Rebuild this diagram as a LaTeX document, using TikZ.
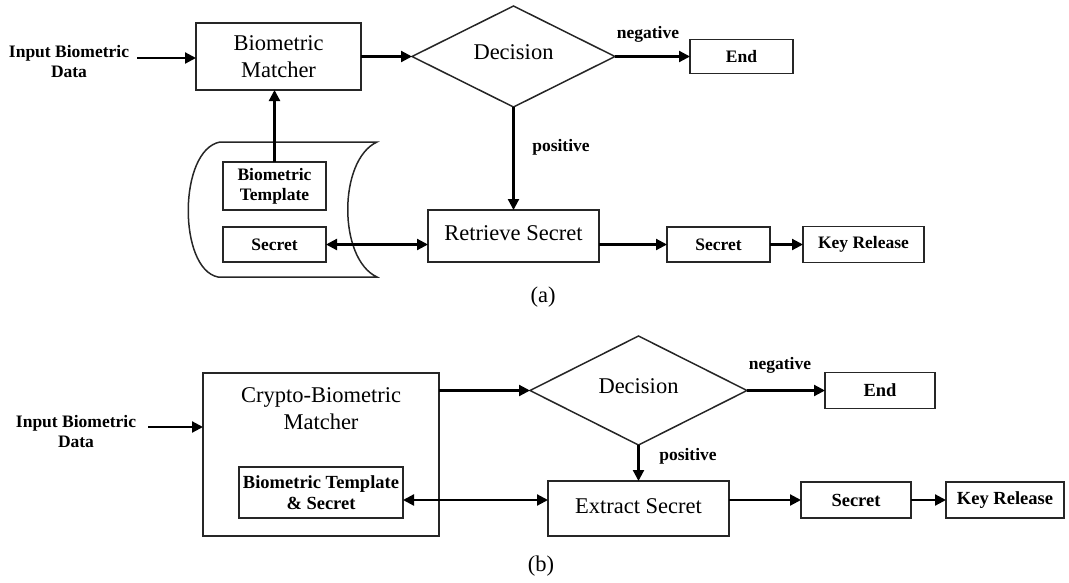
\documentclass[tikz,border=0pt]{standalone}
\usepackage{fontspec}
\setmainfont{Liberation Serif}
\usetikzlibrary{shapes.geometric,arrows.meta}
\tikzset{
  box/.style={draw=black!85, line width=1.5pt, inner sep=0pt, outer sep=0pt, align=center},
  dia/.style={draw=black!85, line width=1.5pt, shape=diamond, shape aspect=2, inner sep=0pt, outer sep=0pt, font=\fontsize{22.5}{27}\selectfont},
  big/.style={font=\fontsize{22.5}{27}\selectfont, align=center},
  small/.style={font=\fontsize{17.5}{20}\selectfont\bfseries, align=center},
  mid/.style={font=\fontsize{18.5}{21}\selectfont\bfseries, align=center},
  lbl/.style={font=\fontsize{17.5}{20}\selectfont\bfseries, align=center, inner sep=0pt},
  arr/.style={line width=2.2pt, -{Triangle[length=11pt,width=11pt]}},
  darr/.style={line width=2.2pt, {Triangle[length=11pt,width=11pt]}-{Triangle[length=11pt,width=11pt]}},
}
\begin{document}
\begin{tikzpicture}[x=1pt,y=-1pt]
\useasboundingbox (0,0) rectangle (1069,582);
% ---------------- (a) ----------------
\node[lbl] (in1) at (69,62) {Input Biometric\\Data};
\coordinate (in1s) at (137,58);
\node[box,big,minimum width=165pt,minimum height=67pt] (m1) at (278.5,56.5) {Biometric\\Matcher};
\node[dia,minimum width=203pt,minimum height=101pt] (d1) at (513.5,56.5) {\raisebox{8.5pt}{Decision}};
\node[lbl] (neg1) at (648,34) {negative};
\node[box,small,minimum width=103pt,minimum height=34pt] (e1) at (741.5,56.5) {End};
\node[lbl] (pos1) at (561,147) {positive};
\node[box,big,minimum width=171pt,minimum height=52pt] (r1) at (513.5,236) {\raisebox{6pt}{Retrieve Secret}};
\node[box,small,minimum width=103pt,minimum height=35pt] (s2) at (718.5,244.5) {Secret};
\node[box,small,minimum width=121pt,minimum height=36pt] (k1) at (863.5,244.5) {Key Release};
% storage drum
\draw[draw=black!85, line width=1.5pt] (220,142) -- (377,142)
  .. controls (338,160) and (338,259) .. (377,277)
  -- (218,277)
  .. controls (178,269) and (178,150) .. (220,142) -- cycle;
\node[box,small,minimum width=103pt,minimum height=48pt] (t1) at (274.5,186) {Biometric\\Template};
\node[box,small,minimum width=103pt,minimum height=35pt] (s1) at (274.5,244.5) {Secret};
\node[big] (capa) at (543,297) {(a)};
\draw[arr] (in1s) -- (in1s -| m1.west);
\draw[arr] (m1.east) -- (d1.west);
\draw[arr] (d1.east) -- (e1.west);
\draw[arr] (d1.south) -- (r1.north);
\draw[arr] (t1.north) -- (t1.north |- m1.south);
\draw[darr] (s1.east) -- (s1.east -| r1.west);
\draw[arr] (r1.east |- s2.west) -- (s2.west);
\draw[arr] (s2.east) -- (k1.west);
% ---------------- (b) ----------------
\node[lbl] (in2) at (76,432) {Input Biometric\\Data};
\coordinate (in2s) at (148,427);
\node[box,minimum width=236pt,minimum height=163pt] (cb) at (321,454.5) {};
\node[big,inner sep=0pt] (cbt) at (321,408.5) {Crypto-Biometric\\Matcher};
\node[box,mid,minimum width=164pt,minimum height=51pt] (tb) at (321,492.5) {Biometric Template\\\& Secret};
\node[dia,minimum width=217pt,minimum height=109pt] (d2) at (638.5,390.5) {\raisebox{8.5pt}{Decision}};
\node[lbl] (neg2) at (780,365) {negative};
\node[box,mid,minimum width=110pt,minimum height=36pt] (e2) at (880,390.5) {End};
\node[lbl] (pos2) at (688,456) {positive};
\node[box,big,minimum width=181pt,minimum height=55pt] (x2) at (638.5,508.5) {\raisebox{5pt}{Extract Secret}};
\node[box,mid,minimum width=110pt,minimum height=36pt] (s3) at (856,500) {Secret};
\node[box,mid,minimum width=118pt,minimum height=36pt] (k2) at (1005,500) {Key Release};
\node[big] (capb) at (541,566) {(b)};
\draw[arr] (in2s) -- (in2s -| cb.west);
\draw[arr] (cb.east |- d2.west) -- (d2.west);
\draw[arr] (d2.east) -- (e2.west);
\draw[arr] (d2.south) -- (x2.north);
\draw[darr] (tb.east |- s3.west) -- (x2.west |- s3.west);
\draw[arr] (x2.east |- s3.west) -- (s3.west);
\draw[arr] (s3.east) -- (k2.west);
\end{tikzpicture}
\end{document}
